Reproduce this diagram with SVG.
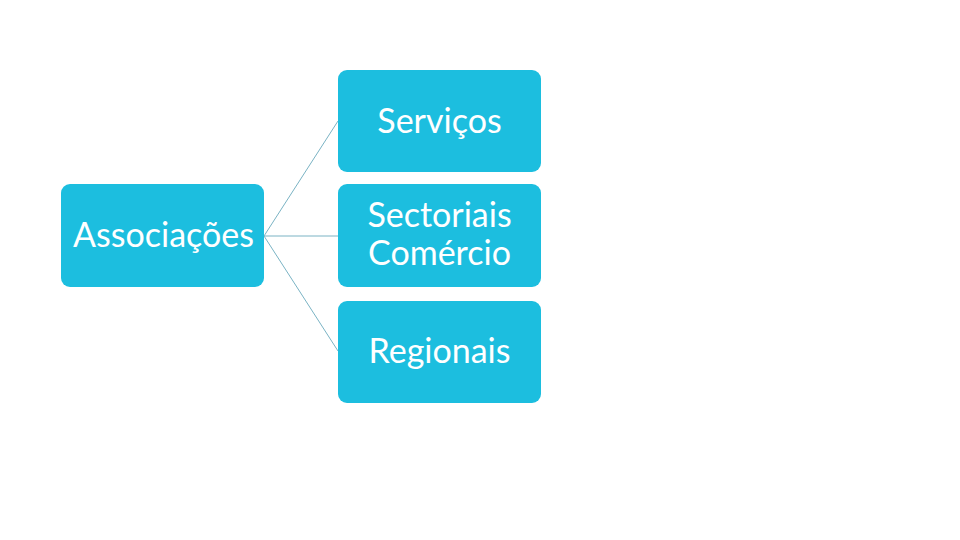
<svg xmlns="http://www.w3.org/2000/svg" width="960" height="540" viewBox="0 0 960 540">
<style>
.box{fill:#1cbedf}
.t{fill:#ffffff;font-family:Lato,"Open Sans",sans-serif;font-size:34px;font-weight:400;text-anchor:middle}
.c{stroke:#7ab3c4;stroke-width:1;fill:none}
</style>
<rect width="960" height="540" fill="#ffffff"/>
<g id="connectors">
<line class="c" x1="264" y1="236" x2="338" y2="121"/>
<line class="c" x1="264" y1="236" x2="338" y2="236"/>
<line class="c" x1="264" y1="236" x2="338" y2="351"/>
</g>
<g id="associacoes">
<rect class="box" x="61" y="184" width="203" height="103" rx="9"/>
<text class="t" x="163.5" y="247">Associações</text>
</g>
<g id="servicos">
<rect class="box" x="338" y="70" width="203" height="102" rx="9"/>
<text class="t" x="439.5" y="133">Serviços</text>
</g>
<g id="sectoriais">
<rect class="box" x="338" y="184" width="203" height="103" rx="9"/>
<text class="t" x="439.5" y="227">Sectoriais</text>
<text class="t" x="439.5" y="265">Comércio</text>
</g>
<g id="regionais">
<rect class="box" x="338" y="301" width="203" height="102" rx="9"/>
<text class="t" x="439.5" y="363">Regionais</text>
</g>
</svg>
